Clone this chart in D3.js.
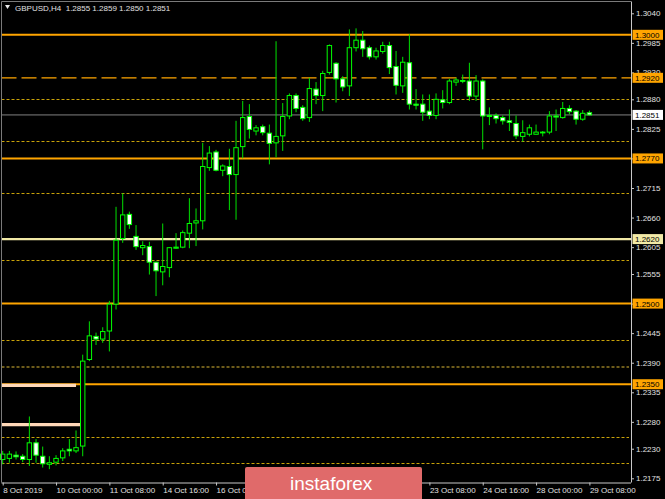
<!DOCTYPE html>
<html><head><meta charset="utf-8">
<script src="https://cdn.jsdelivr.net/npm/d3@7/dist/d3.min.js"></script>
<style>
html,body{margin:0;padding:0;background:#000;}
svg{display:block;}
text{font-family:"Liberation Sans",Arial,sans-serif;}
</style></head>
<body>
<svg id="c" width="665" height="499"></svg>
<script>
// ---------------- data ----------------
const times = [
"8 Oct 16:00","8 Oct 20:00",
"9 Oct 00:00","9 Oct 04:00","9 Oct 08:00","9 Oct 12:00","9 Oct 16:00","9 Oct 20:00",
"10 Oct 00:00","10 Oct 04:00","10 Oct 08:00","10 Oct 12:00","10 Oct 16:00","10 Oct 20:00",
"11 Oct 00:00","11 Oct 04:00","11 Oct 08:00","11 Oct 12:00","11 Oct 16:00","11 Oct 20:00",
"14 Oct 00:00","14 Oct 04:00","14 Oct 08:00","14 Oct 12:00","14 Oct 16:00","14 Oct 20:00",
"15 Oct 00:00","15 Oct 04:00","15 Oct 08:00","15 Oct 12:00","15 Oct 16:00","15 Oct 20:00",
"16 Oct 00:00","16 Oct 04:00","16 Oct 08:00","16 Oct 12:00","16 Oct 16:00","16 Oct 20:00",
"17 Oct 00:00","17 Oct 04:00","17 Oct 08:00","17 Oct 12:00","17 Oct 16:00","17 Oct 20:00",
"18 Oct 00:00","18 Oct 04:00","18 Oct 08:00","18 Oct 12:00","18 Oct 16:00","18 Oct 20:00",
"21 Oct 00:00","21 Oct 04:00","21 Oct 08:00","21 Oct 12:00","21 Oct 16:00","21 Oct 20:00",
"22 Oct 00:00","22 Oct 04:00","22 Oct 08:00","22 Oct 12:00","22 Oct 16:00","22 Oct 20:00",
"23 Oct 00:00","23 Oct 04:00","23 Oct 08:00","23 Oct 12:00","23 Oct 16:00","23 Oct 20:00",
"24 Oct 00:00","24 Oct 04:00","24 Oct 08:00","24 Oct 12:00","24 Oct 16:00","24 Oct 20:00",
"25 Oct 00:00","25 Oct 04:00","25 Oct 08:00","25 Oct 12:00","25 Oct 16:00","25 Oct 20:00",
"28 Oct 00:00","28 Oct 04:00","28 Oct 08:00","28 Oct 12:00","28 Oct 16:00","28 Oct 20:00",
"29 Oct 00:00","29 Oct 04:00","29 Oct 08:00"];

const opens = [1.2210,1.2212,1.2218,1.2216,1.2210,1.2241,1.2216,1.2201,1.2205,1.2213,
1.2229,1.2226,1.2235,1.2396,1.2439,1.2434,1.2449,1.2499,1.2621,1.2666,
1.2625,1.2604,1.2606,1.2577,1.2559,1.2567,1.2603,1.2605,1.2631,1.2650,
1.2654,1.2753,1.2782,1.2748,1.2755,1.2740,1.2792,1.2848,1.2821,1.2829,
1.2817,1.2799,1.2812,1.2849,1.2887,1.2865,1.2846,1.2899,1.2887,1.2930,
1.2947,1.2918,1.2905,1.2976,1.2990,1.2976,1.2959,1.2969,1.2980,1.2941,
1.2905,1.2948,1.2871,1.2871,1.2858,1.2850,1.2879,1.2874,1.2912,1.2915,
1.2914,1.2886,1.2914,1.2850,1.2850,1.2846,1.2840,1.2835,1.2811,1.2815,
1.2815,1.2819,1.2819,1.2849,1.2846,1.2863,1.2858,1.2843,1.2855];
const highs = [1.2226,1.2226,1.2225,1.2220,1.2290,1.2248,1.2234,1.2216,1.2218,1.2231,
1.2248,1.2264,1.2405,1.2467,1.2446,1.2456,1.2505,1.2680,1.2705,1.2671,
1.2646,1.2616,1.2615,1.2578,1.2649,1.2605,1.2631,1.2636,1.2696,1.2677,
1.2799,1.2793,1.2786,1.2759,1.2788,1.2840,1.2877,1.2871,1.2832,1.2833,
1.2833,1.2988,1.2873,1.2891,1.2891,1.2869,1.2920,1.2912,1.2933,1.2982,
1.2949,1.2923,1.3010,1.3012,1.3007,1.2980,1.2976,1.2987,1.2987,1.2970,
1.2959,1.3001,1.2899,1.2889,1.2889,1.2891,1.2897,1.2918,1.2920,1.2926,
1.2948,1.2925,1.2917,1.2865,1.2854,1.2850,1.2861,1.2850,1.2841,1.2833,
1.2833,1.2821,1.2858,1.2861,1.2875,1.2869,1.2860,1.2860,1.2859];
const lows = [1.2201,1.2204,1.2210,1.2205,1.2198,1.2204,1.2195,1.2192,1.2199,1.2207,
1.2216,1.2222,1.2216,1.2393,1.2423,1.2427,1.2411,1.2489,1.2613,1.2639,
1.2600,1.2590,1.2554,1.2514,1.2534,1.2549,1.2602,1.2603,1.2603,1.2607,
1.2638,1.2747,1.2746,1.2737,1.2674,1.2656,1.2770,1.2807,1.2813,1.2813,
1.2759,1.2772,1.2784,1.2843,1.2856,1.2840,1.2838,1.2871,1.2858,1.2926,
1.2874,1.2895,1.2886,1.2969,1.2959,1.2954,1.2954,1.2965,1.2927,1.2889,
1.2892,1.2861,1.2861,1.2840,1.2843,1.2843,1.2863,1.2871,1.2905,1.2910,
1.2877,1.2877,1.2787,1.2832,1.2835,1.2833,1.2821,1.2806,1.2801,1.2811,
1.2815,1.2811,1.2815,1.2821,1.2844,1.2852,1.2833,1.2840,1.2850];
const closes = [1.2220,1.2220,1.2215,1.2210,1.2241,1.2218,1.2202,1.2204,1.2212,1.2226,
1.2226,1.2232,1.2393,1.2440,1.2434,1.2448,1.2499,1.2618,1.2665,1.2647,
1.2606,1.2608,1.2577,1.2561,1.2569,1.2604,1.2605,1.2632,1.2649,1.2654,
1.2755,1.2780,1.2748,1.2756,1.2740,1.2790,1.2846,1.2824,1.2827,1.2818,
1.2798,1.2811,1.2848,1.2887,1.2863,1.2844,1.2900,1.2887,1.2928,1.2980,
1.2918,1.2903,1.2976,1.2990,1.2974,1.2959,1.2970,1.2980,1.2939,1.2906,
1.2949,1.2871,1.2869,1.2856,1.2850,1.2880,1.2874,1.2914,1.2916,1.2914,
1.2886,1.2914,1.2849,1.2848,1.2844,1.2840,1.2837,1.2812,1.2818,1.2827,
1.2819,1.2819,1.2849,1.2847,1.2863,1.2857,1.2843,1.2854,1.2851];

const priceTicks = [1.3040,1.2985,1.2930,1.2880,1.2825,1.2770,1.2715,1.2660,1.2605,1.2555,1.2500,1.2445,1.2390,1.2335,1.2280,1.2230,1.2175];
// time ticks visible in the reference (those under the logo are covered)
const timeTickIdx = [0,8,16,24,32,64,72,80,88];
const timeTickLabels = ["8 Oct 2019","10 Oct 00:00","11 Oct 08:00","14 Oct 16:00","16 Oct 00:00","23 Oct 08:00","24 Oct 16:00","28 Oct 00:00","29 Oct 08:00"];

const solidLevels = [1.3000,1.2770,1.2500,1.2350];
const paleLevels = [1.2620];
const dashedLevels = [1.2920];
const dottedLevels = [1.2880,1.2802,1.2705,1.2581,1.2432,1.2251,1.2204];
const darkDottedLevels = [1.2382];
const peachLevels = [1.2348,1.2275];
const peachEndBars = [11.0,11.75];
const currentPrice = 1.2851;
const titleText = "GBPUSD,H4  1.2855 1.2859 1.2850 1.2851";

// ---------------- drawing ----------------
const svg = d3.select("#c");
const W = 665, H = 499;
const plotL = 1.5, plotR = 631, plotT = 1.5, plotB = 482.5;

svg.append("rect").attr("width",W).attr("height",H).attr("fill","#000");

const y = d3.scaleLinear().domain([1.2175,1.3040]).range([478.3,13.3]);
const x = d3.scalePoint().domain(times).range([2.7,589.4]);
const xi = d3.scaleLinear().domain([0,times.length-1]).range([2.7,589.4]);

const g = svg.append("g");

// dotted levels
g.selectAll(".dot").data(dottedLevels).join("line")
  .attr("x1",plotL).attr("x2",plotR-2)
  .attr("y1",d=>Math.round(y(d))+0.5).attr("y2",d=>Math.round(y(d))+0.5)
  .attr("stroke","#c9a208").attr("stroke-width",1).attr("stroke-dasharray","3,2");
g.selectAll(".ddot").data(darkDottedLevels).join("line")
  .attr("x1",plotL).attr("x2",plotR-2)
  .attr("y1",d=>y(d)).attr("y2",d=>y(d))
  .attr("stroke","#6e5c1a").attr("stroke-width",2).attr("stroke-dasharray","3,2");
// dashed level
g.selectAll(".dash").data(dashedLevels).join("line")
  .attr("x1",plotL).attr("x2",plotR)
  .attr("y1",d=>y(d)).attr("y2",d=>y(d))
  .attr("stroke","#ffa500").attr("stroke-width",1.3).attr("stroke-dasharray","15,5");
// current price line
g.append("line").attr("x1",plotL).attr("x2",plotR)
  .attr("y1",y(currentPrice)).attr("y2",y(currentPrice))
  .attr("stroke","#4a4a4a").attr("stroke-width",1.7);
// solid levels
g.selectAll(".sol").data(solidLevels).join("line")
  .attr("x1",plotL).attr("x2",plotR)
  .attr("y1",d=>y(d)).attr("y2",d=>y(d))
  .attr("stroke","#ffa500").attr("stroke-width",2);
g.selectAll(".pale").data(paleLevels).join("line")
  .attr("x1",plotL).attr("x2",plotR)
  .attr("y1",d=>y(d)).attr("y2",d=>y(d))
  .attr("stroke","#f1e9a6").attr("stroke-width",2.2);
// peach segments
g.selectAll(".peach").data(peachLevels).join("line")
  .attr("x1",plotL).attr("x2",(d,i)=>xi(peachEndBars[i]))
  .attr("y1",d=>y(d)).attr("y2",d=>y(d))
  .attr("stroke","#ffd8b8").attr("stroke-width",3.2);

// candles
const bars = times.map((t,i)=>({t,o:opens[i],h:highs[i],l:lows[i],c:closes[i]}));
const cg = g.append("g");
const bw = 4.4;
cg.selectAll(".wick").data(bars).join("line")
  .attr("x1",d=>x(d.t)).attr("x2",d=>x(d.t))
  .attr("y1",d=>y(d.h)).attr("y2",d=>y(d.l))
  .attr("stroke","#00e000").attr("stroke-width",1);
cg.selectAll(".body").data(bars).join("rect")
  .attr("x",d=>x(d.t)-bw/2)
  .attr("y",d=>y(Math.max(d.o,d.c)))
  .attr("width",bw)
  .attr("height",d=>Math.max(0.8,Math.abs(y(d.o)-y(d.c))))
  .attr("fill",d=>d.c>d.o?"#000":(d.c<d.o?"#fff":"#00e000"))
  .attr("stroke","#00ff00").attr("stroke-width",1);

// frame
svg.append("line").attr("x1",plotL).attr("x2",plotL).attr("y1",plotT).attr("y2",plotB).attr("stroke","#7a7a7a").attr("stroke-width",1);
svg.append("line").attr("x1",plotL).attr("x2",plotR).attr("y1",plotT).attr("y2",plotT).attr("stroke","#7a7a7a").attr("stroke-width",1);

// right axis
const ra = svg.append("g").attr("transform",`translate(${plotR},0)`)
  .call(d3.axisRight(y).tickValues(priceTicks).tickFormat(d3.format(".4f")).tickSize(3).tickPadding(2));
ra.select(".domain").attr("stroke","#c8c8c8").attr("d",`M0.5,${plotT}V${plotB}`);
ra.selectAll(".tick line").attr("stroke","#c8c8c8");
ra.selectAll(".tick text").attr("fill","#e0e0e0").attr("font-size",8).attr("font-family","Liberation Sans, Arial, sans-serif");

// bottom axis
const tickTimes = timeTickIdx.map(i=>times[i]);
const ba = svg.append("g").attr("transform",`translate(0,${plotB})`)
  .call(d3.axisBottom(x).tickValues(tickTimes).tickFormat((d,i)=>timeTickLabels[i]).tickSize(3).tickPadding(2));
ba.select(".domain").attr("stroke","#c8c8c8").attr("d",`M${plotL},0.5H${plotR}`);
ba.selectAll(".tick line").attr("stroke","#c8c8c8");
ba.selectAll(".tick text").attr("fill","#e0e0e0").attr("font-size",8)
  .attr("text-anchor","start").attr("font-family","Liberation Sans, Arial, sans-serif");

// price boxes
function box(p,fill){
  const yy = y(p);
  svg.append("rect").attr("x",632.5).attr("y",yy-5).attr("width",30.5).attr("height",10).attr("fill",fill);
  svg.append("text").attr("x",635).attr("y",yy+3).attr("font-size",8).attr("fill","#000").text(d3.format(".4f")(p));
}
solidLevels.forEach(p=>box(p,"#ffa500"));
dashedLevels.forEach(p=>box(p,"#ffa500"));
paleLevels.forEach(p=>box(p,"#f1e9a6"));
box(currentPrice,"#ffffff");

// title
svg.append("path").attr("d","M5,5 L10,5 L7.5,9 Z").attr("fill","#e8e8e8");
svg.append("text").attr("x",15).attr("y",11).attr("font-size",8).attr("fill","#e0e0e0").attr("xml:space","preserve").style("white-space","pre").text(titleText);

// logo
const logo = svg.append("g");
logo.append("rect").attr("x",245).attr("y",467).attr("width",177).attr("height",34).attr("rx",2).attr("fill","#e06a6a");
logo.append("text").attr("x",290).attr("y",490).attr("font-size",19).attr("fill","#fff").attr("font-family","Open Sans, Liberation Sans, sans-serif").text("instaforex");
</script>
</body></html>
